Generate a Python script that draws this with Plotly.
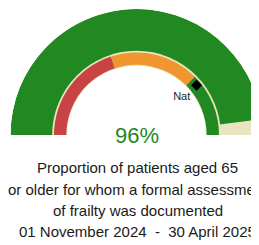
import plotly.graph_objects as go

# ---- data ----
gauge_min = 0
gauge_max = 100
value = 96
national = 78
band_names = ["Low", "Mid", "High"]
band_starts = [0, 40, 75]
band_ends = [40, 75, 100]
band_colors = ["#C84444", "#F0962F", "#228822"]
value_label = "96%"
title_lines = [
    "Proportion of patients aged 65",
    "or older for whom a formal assessment",
    "of frailty was documented",
    "01 November 2024\u00a0\u00a0-\u00a0\u00a030 April 2025",
]
nat_label = "Nat"

GREEN = "#228822"
BEIGE = "#EAE5C0"
DEG = 180.0 / (gauge_max - gauge_min)

# the page adds an 8px body margin; the chart is wider than the window and
# its right edge is cut off by the window, as in the reference
OFF = 8
W, H = 259, 245 - OFF
cx, cy, R = 136.5 - OFF, 135.0 - OFF, 126.0  # pixel centre / radius of polar area


def th(v):
    return (v - gauge_min) * DEG


mid_all = th((gauge_min + gauge_max) / 2)
full = th(gauge_max) - th(gauge_min)

fig = go.Figure()


def ring(theta, width, r, color):
    fig.add_trace(go.Barpolar(
        theta=theta, width=width, r=r,
        marker=dict(color=color, line=dict(width=0)),
        hoverinfo="skip", showlegend=False))


# layered discs (each painted over the previous one)
ring([mid_all], [full], [126.0], BEIGE)                          # gauge background
ring([th((gauge_min + value) / 2)], [th(value)], [126.0], GREEN)  # value bar
ring([mid_all], [full], [84.3], BEIGE)                           # separator
ring([th((s + e) / 2) for s, e in zip(band_starts, band_ends)],
     [th(e) - th(s) for s, e in zip(band_starts, band_ends)],
     [82.5] * len(band_starts), band_colors)                      # bands
ring([mid_all], [full], [70.2], BEIGE)                           # inner outline
ring([mid_all], [full], [69.4], "#FFFFFF")                       # hollow centre

# national marker
fig.add_trace(go.Scatterpolar(
    theta=[th(national)], r=[78.0], mode="markers+text",
    marker=dict(symbol="diamond", size=8.5, color="#000000"),
    text=[nat_label], textposition="bottom left",
    textfont=dict(size=11, color="#222222", family="Liberation Sans, Arial, sans-serif"),
    cliponaxis=False, hoverinfo="skip", showlegend=False))

fig.update_layout(
    width=W, height=H,
    margin=dict(l=0, r=0, t=0, b=0),
    paper_bgcolor="white",
    font=dict(family="Liberation Sans, Arial, sans-serif"),
    polar=dict(
        domain=dict(x=[(cx - R) / W, (cx + R) / W], y=[(H - cy) / H, (H - cy + R) / H]),
        sector=[0, 180],
        hole=0,
        bgcolor="rgba(0,0,0,0)",
        radialaxis=dict(range=[0, R], visible=False, showgrid=False),
        angularaxis=dict(rotation=180, direction="clockwise", visible=False, showgrid=False),
        barmode="overlay",
    ),
)

annotations = [dict(
    text=value_label, x=(137 - OFF) / W, y=(H - (135.5 - OFF)) / H, xref="paper", yref="paper",
    xanchor="center", yanchor="middle", showarrow=False,
    font=dict(size=22, color=GREEN))]
line_y = [167, 189, 210, 231]
for t, ly in zip(title_lines, line_y):
    annotations.append(dict(
        text=t, x=(137.5 - OFF) / W, y=(H - (ly - OFF)) / H, xref="paper", yref="paper",
        xanchor="center", yanchor="middle", showarrow=False,
        font=dict(size=15, color="#1a1a1a")))
fig.update_layout(annotations=annotations)

fig.write_html("out.html")
